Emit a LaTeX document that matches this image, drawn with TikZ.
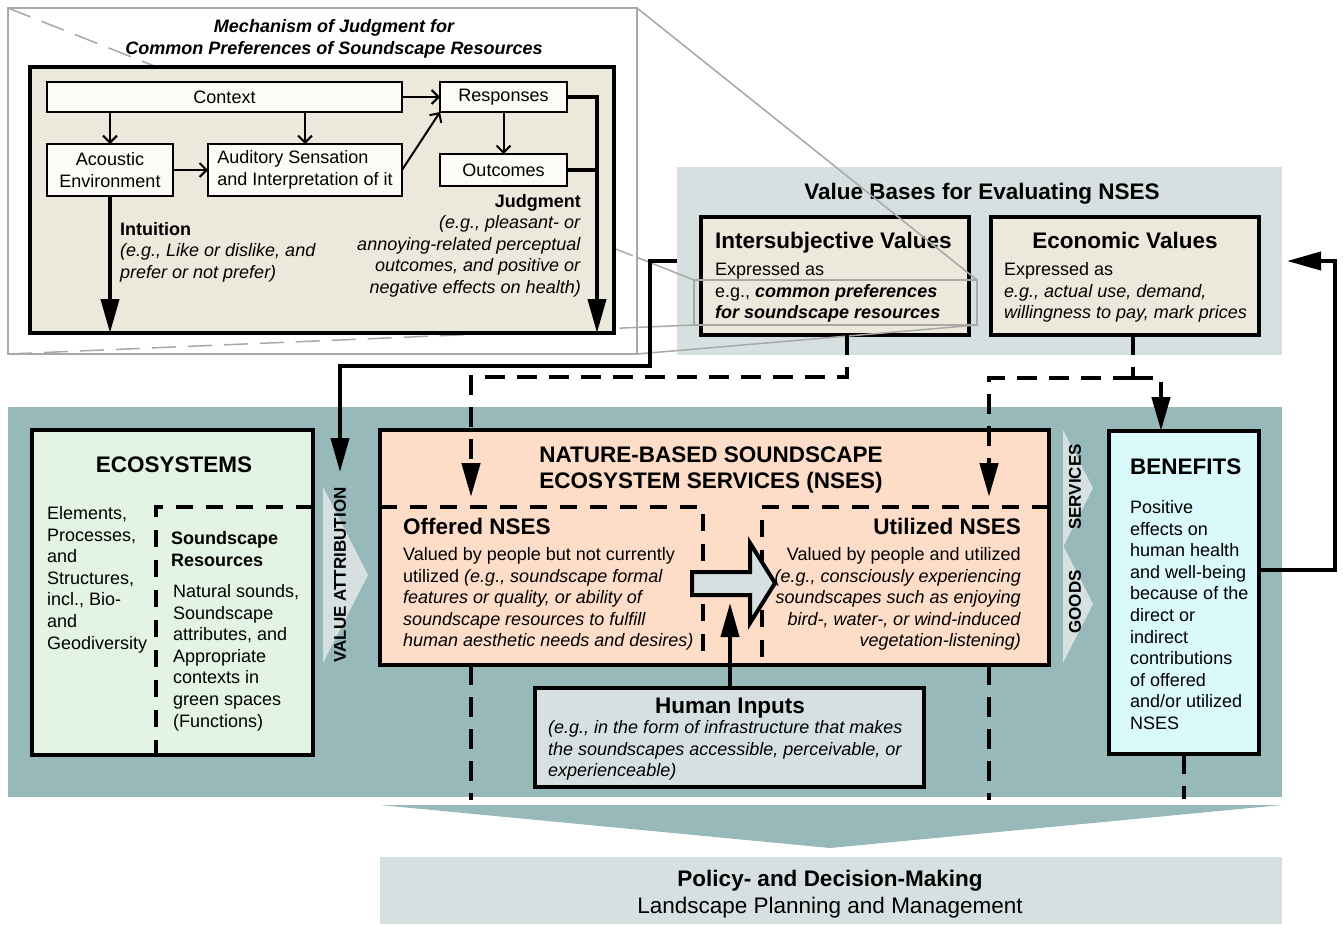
\documentclass[tikz,border=0pt]{standalone}
\usepackage{fontspec}
\setmainfont{Liberation Sans}
\usetikzlibrary{arrows.meta}
\definecolor{sscteal}{RGB}{151,185,185}
\definecolor{sscgray}{RGB}{214,224,225}
\definecolor{sscbeige}{RGB}{236,232,219}
\definecolor{sscpaper}{RGB}{252,251,246}
\definecolor{sscgreen}{RGB}{228,244,228}
\definecolor{sscpeach}{RGB}{253,220,200}
\definecolor{ssccyan}{RGB}{218,249,250}
\definecolor{ssczoom}{RGB}{168,168,168}
\newcommand{\bodyfont}{\fontsize{18}{21.6}\selectfont}
\newcommand{\headfont}{\fontsize{22.5}{26}\selectfont\bfseries}
\begin{document}
\begin{tikzpicture}[x=1pt,y=-1pt,>={Triangle[length=34pt,width=18pt]},
	smallbox/.style={draw,line width=2pt,fill=sscpaper,inner sep=0pt,outer sep=0pt,font=\bodyfont},
	mainbox/.style={draw,line width=4pt,inner sep=0pt,outer sep=0pt},
	flat/.style={inner sep=0pt,outer sep=0pt},
	txt/.style={inner sep=0pt,font=\bodyfont},
	head/.style={inner sep=0pt,font=\headfont},
	side/.style={inner sep=0pt,rotate=90,font=\fontsize{17}{20}\selectfont\bfseries},
	inarr/.style={line width=2pt,-{Straight Barb[length=7pt,width=14pt]}},
	link/.style={line width=4pt},
	dlink/.style={line width=4.5pt,dash pattern=on 20pt off 12pt},
	ecodash/.style={line width=4pt,dash pattern=on 17pt off 13pt},
	zoomline/.style={draw=ssczoom,line width=1.5pt},
	zoomdash/.style={zoomline,dash pattern=on 24pt off 12pt}]
	\useasboundingbox (0,0) rectangle (1343,924);
	% khung phong to
	\node[flat,draw=ssczoom,line width=1.5pt,minimum width=629pt,minimum height=346pt] (inset) at (322.5,181) {};
	% gia tri (base = dong cuoi)
	\node[flat,fill=sscgray,minimum width=605pt,minimum height=188pt] (vb) at (979.5,261) {};
	\node[head,anchor=base] (vbt) at (982,199) {Value Bases for Evaluating NSES};
	\node[mainbox,fill=sscbeige,minimum width=268pt,minimum height=118pt] (isv) at (835,276) {};
	\node[head,anchor=base west] (isvt) at (715,248) {Intersubjective Values};
	\node[txt,anchor=base west,align=left] (isvx) at (715,318.7) {Expressed as\\e.g., \textbf{\textit{common preferences}}\\\textbf{\textit{for soundscape resources}}};
	\node[mainbox,fill=sscbeige,minimum width=268pt,minimum height=118pt] (ecv) at (1125,276) {};
	\node[head,anchor=base] (ecvt) at (1125,248) {Economic Values};
	\node[txt,anchor=base west,align=left] (ecvx) at (1004,318.7) {Expressed as\\\textit{e.g., actual use, demand,}\\\textit{willingness to pay, mark prices}};
	% duong phong to
	\node[flat,draw=ssczoom,line width=1.5pt,minimum width=283pt,minimum height=45pt] (zr) at (835.5,302.5) {};
	\path (inset.north west) -- coordinate[pos=0.917] (tlx) (zr.north west);
	\path (inset.south west) -- coordinate[pos=0.917] (blx) (zr.south west);
	\draw[zoomdash] (inset.north west) -- (tlx);
	\draw[zoomline] (tlx) -- (zr.north west);
	\draw[zoomdash] (inset.south west) -- (blx);
	\draw[zoomline] (blx) -- (zr.south west);
	\draw[zoomline] (inset.north east) -- (zr.north east);
	\draw[zoomline] (inset.south east) -- (zr.south east);
	% co che phan doan
	\node[mainbox,fill=sscbeige,minimum width=584pt,minimum height=266pt] (inner) at (322,200) {};
	\node[flat,anchor=base,align=center,font=\fontsize{18}{22}\selectfont\bfseries\itshape] (inst) at (334,54) {Mechanism of Judgment for\\Common Preferences of Soundscape Resources};
	\node[smallbox,minimum width=355pt,minimum height=30pt] (ctx) at (224.5,97) {Context};
	\node[smallbox,minimum width=127pt,minimum height=30pt] (resp) at (503.5,97) {Responses};
	\node[smallbox,minimum width=126pt,minimum height=52pt,align=center] (acou) at (110,170) {Acoustic\\Environment};
	\node[smallbox,minimum width=194pt,minimum height=52pt,align=left] (aud) at (305,170) {Auditory Sensation\\and Interpretation of it};
	\node[smallbox,minimum width=127pt,minimum height=32pt] (out) at (503.5,170) {Outcomes};
	\draw[inarr] (ctx.south -| acou.north) -- (acou.north);
	\draw[inarr] (ctx.south -| aud.north) -- (aud.north);
	\draw[inarr] (ctx.east) -- (resp.west);
	\draw[inarr] (acou.east) -- (aud.west);
	\draw[inarr] (aud.east) -- (resp.south west);
	\draw[inarr] (resp.south) -- (out.north);
	\coordinate (jend) at (597,333);
	\draw[link,->] (resp.east) -| (jend);
	\draw[link] (out.east) -- (out.east -| jend);
	\draw[link,->] (acou.south) -- (acou.south |- inner.south);
	\node[txt,anchor=base west,align=left] (intu) at (120,278.2) {\textbf{Intuition}\\\textit{(e.g., Like or dislike, and}\\\textit{prefer or not prefer)}};
	\node[txt,anchor=base east,align=right] (judg) at (581,293.5) {\textbf{Judgment}\\\textit{(e.g., pleasant- or}\\\textit{annoying-related perceptual}\\\textit{outcomes, and positive or}\\\textit{negative effects on health)}};
	% he sinh thai
	\node[flat,fill=sscteal,minimum width=1274pt,minimum height=390pt] (sysbg) at (645,602) {};
	\node[mainbox,fill=sscgreen,minimum width=281pt,minimum height=325pt] (eco) at (172.5,592.5) {};
	\node[head,anchor=base] (ecot) at (174,472) {ECOSYSTEMS};
	\node[txt,anchor=base west,align=left] (ecol) at (47,649.1) {Elements,\\Processes,\\and\\Structures,\\incl., Bio-\\and\\Geodiversity};
	\coordinate (sres) at (156,507);
	\draw[ecodash] (sres -| eco.east) -- (sres) -- (sres |- eco.south);
	\node[txt,anchor=base west,align=left,font=\bodyfont\bfseries] (srt) at (171,566.1) {Soundscape\\Resources};
	\node[txt,anchor=base west,align=left] (srx) at (173,727.1) {Natural sounds,\\Soundscape\\attributes, and\\Appropriate\\contexts in\\green spaces\\(Functions)};
	\fill[sscgray] (323,487) -- (368,575) -- (323,663) -- cycle;
	\node[side] (vat) at (340,575) {VALUE ATTRIBUTION};
	% NSES
	\node[mainbox,fill=sscpeach,minimum width=669pt,minimum height=235pt] (nses) at (714.5,547.5) {};
	\node[head,anchor=base,align=center] (nsest) at (711,488) {NATURE-BASED SOUNDSCAPE\\ECOSYSTEM SERVICES (NSES)};
	\coordinate (ofd) at (703,507);
	\coordinate (utd) at (762,507);
	\draw[ecodash] (ofd -| nses.west) -- (ofd) -- (ofd |- nses.south);
	\draw[ecodash] (utd -| nses.east) -- (utd) -- (utd |- nses.south);
	\node[head,anchor=base west] (oft) at (403,534) {Offered NSES};
	\node[txt,anchor=base west,align=left] (ofx) at (403,646.9) {Valued by people but not currently\\utilized \textit{(e.g., soundscape formal}\\\textit{features or quality, or ability of}\\\textit{soundscape resources to fulfill}\\\textit{human aesthetic needs and desires)}};
	\node[head,anchor=base east] (utt) at (1021,534) {Utilized NSES};
	\node[txt,anchor=base east,align=right] (utx) at (1021,646.9) {Valued by people and utilized\\\textit{(e.g., consciously experiencing}\\\textit{soundscapes such as enjoying}\\\textit{bird-, water-, or wind-induced}\\\textit{vegetation-listening)}};
	\draw[line width=4pt,fill=sscgray] (692,572) -- (750,572) -- (750,543) -- (775,583) -- (750,623) -- (750,595) -- (692,595) -- cycle;
	\node[mainbox,fill=sscgray,minimum width=389pt,minimum height=99pt] (hum) at (729.5,737.5) {};
	\node[head,anchor=base] (humt) at (730,713) {Human Inputs};
	\node[txt,anchor=base west,align=left] (humx) at (548,776.7) {\textit{(e.g., in the form of infrastructure that makes}\\\textit{the soundscapes accessible, perceivable, or}\\\textit{experienceable)}};
	\coordinate (humtip) at (730,603);
	\draw[link,->] (hum.north -| humtip) -- (humtip);
	\fill[sscgray] (1063,430) -- (1093,488) -- (1063,547) -- cycle;
	\fill[sscgray] (1063,545) -- (1093,604) -- (1063,663) -- cycle;
	\node[side] (svc) at (1075,487) {SERVICES};
	\node[side] (gds) at (1075,602) {GOODS};
	% loi ich
	\node[mainbox,fill=ssccyan,minimum width=150pt,minimum height=323pt] (ben) at (1184,592.5) {};
	\node[head,anchor=base west] (bent) at (1130,474) {BENEFITS};
	\node[txt,anchor=base west,align=left] (benx) at (1130,729.5) {Positive\\effects on\\human health\\and well-being\\because of the\\direct or\\indirect\\contributions\\of offered\\and/or utilized\\NSES};
	% chinh sach
	\fill[sscteal] (380,805) -- (1282,805) -- (830,848) -- cycle;
	\node[flat,fill=sscgray,minimum width=902pt,minimum height=67pt] (pol) at (831,890.5) {};
	\node[flat,anchor=base,align=center,font=\fontsize{22.5}{27}\selectfont] (polt) at (830,913) {\textbf{Policy- and Decision-Making}\\Landscape Planning and Management};
	% mui ten noi
	\coordinate (vatip) at (340,472);
	\coordinate (c1) at (650,366);
	\draw[link,->] (vb.west) -| (c1) -| (vatip);
	\coordinate (ij) at (471,377);
	\coordinate (oftip) at (471,497);
	\coordinate (uttip) at (989,497);
	\coordinate (ej) at (1133,378);
	\draw[dlink,->] ([xshift=12pt]isv.south) |- (ij) -- (oftip);
	\draw[dlink] ([xshift=8pt]ecv.south) -- (ej);
	\draw[dlink,->] (ej) -| (uttip);
	\draw[dlink,->] (ej) -| ([xshift=-23pt]ben.north);
	\draw[dlink] (nses.south -| oftip) -- ++(0,135);
	\draw[dlink] (nses.south -| uttip) -- ++(0,135);
	\draw[dlink] (ben.south) -- ++(0,45);
	\coordinate (fb) at (1335,570);
	\draw[link,->] (ben.east |- fb) -- (fb) |- ([xshift=5pt]vb.east);
\end{tikzpicture}
\end{document}
